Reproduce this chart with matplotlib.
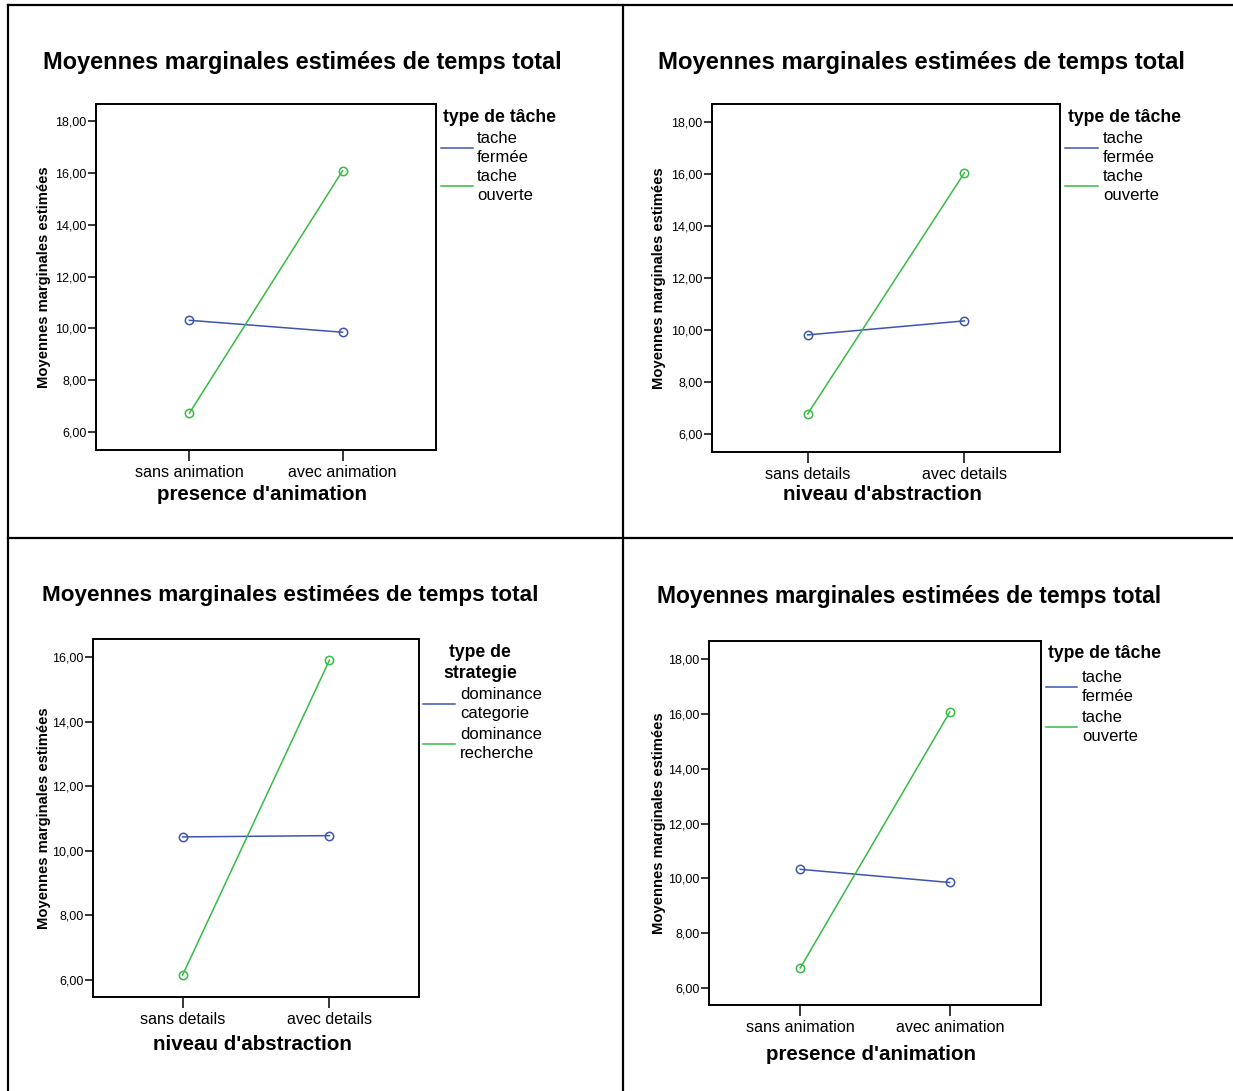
import matplotlib
matplotlib.use("Agg")
import matplotlib.pyplot as plt
from matplotlib.lines import Line2D

plt.rcParams['font.family'] = ['Liberation Sans', 'DejaVu Sans']

W, H = 1233, 1091

title = "Moyennes marginales estimées de temps total"
ylabel = "Moyennes marginales estimées"

# panel data
animation_cats = ["sans animation", "avec animation"]
details_cats = ["sans details", "avec details"]

tache_labels = ["tache\nfermée", "tache\nouverte"]
strategie_labels = ["dominance\ncategorie", "dominance\nrecherche"]

p1_fermee = [10.31, 9.85]
p1_ouverte = [6.73, 16.08]

p2_fermee = [9.81, 10.35]
p2_ouverte = [6.77, 16.04]

p3_categorie = [10.43, 10.47]
p3_recherche = [6.15, 15.90]

p4_fermee = [10.33, 9.85]
p4_ouverte = [6.73, 16.07]

yticks_18 = [6, 8, 10, 12, 14, 16, 18]
yticks_16 = [6, 8, 10, 12, 14, 16]

BLUE = '#3d55b0'
GREEN = '#36bb45'


def fx(x):
    return x / W


def fy(y):
    return 1 - y / H


fig = plt.figure(figsize=(W / 100, H / 100), dpi=100)


def panel(box, ylim, yticks, cats, s1, s2, labels, leg_title, xlabel,
          title_xy, title_size, ylab_xy, xlab_xy, leg, leg_title_center=False):
    x0, y0, x1, y1 = box
    ax = fig.add_axes([fx(x0), fy(y1), (x1 - x0) / W, (y1 - y0) / H])
    xs = list(range(len(cats)))
    ax.plot(xs, s1, color=BLUE, lw=1.1, marker='o', ms=6, mfc='none', mec=BLUE, mew=1.1)
    ax.plot(xs, s2, color=GREEN, lw=1.1, marker='o', ms=6, mfc='none', mec=GREEN, mew=1.1)
    ax.set_xlim(-0.61, 1.61)
    ax.set_ylim(*ylim)
    ax.set_yticks(yticks)
    ax.set_yticklabels(["{:.2f}".format(v).replace('.', ',') for v in yticks], fontsize=9)
    ax.set_xticks(xs)
    ax.set_xticklabels(cats, fontsize=11.6)
    ax.tick_params(axis='y', length=6, width=1.1, pad=1)
    ax.tick_params(axis='x', length=8, width=1.1, pad=3)
    for sp in ax.spines.values():
        sp.set_linewidth(1.4)
    fig.text(fx(title_xy[0]), fy(title_xy[1]), title, fontsize=title_size,
             fontweight='bold', ha='left', va='center')
    fig.text(fx(ylab_xy[0]), fy(ylab_xy[1]), ylabel, fontsize=10.6, fontweight='bold',
             rotation=90, ha='center', va='center')
    fig.text(fx(xlab_xy[0]), fy(xlab_xy[1]), xlabel, fontsize=14.8, fontweight='bold',
             ha='center', va='center')
    # legend
    tx, ty, lx0, lx1, txt_x, ly = leg
    fig.text(fx(tx), fy(ty), leg_title, fontsize=12.7, fontweight='bold',
             ha='center' if leg_title_center else 'left', va='center', linespacing=1.3,
             multialignment='center')
    for i, (lab, col) in enumerate(zip(labels, [BLUE, GREEN])):
        yy = ly[i]
        fig.add_artist(Line2D([fx(lx0), fx(lx1)], [fy(yy), fy(yy)], color=col, lw=1.1))
        fig.text(fx(txt_x), fy(yy), lab, fontsize=12, ha='left', va='center', linespacing=1.3)
    return ax


panel((96, 104, 436, 450), (5.306, 18.656), yticks_18, animation_cats, p1_fermee, p1_ouverte,
      tache_labels, "type de tâche", "presence d'animation",
      (43, 62), 16.9, (44, 277), (262, 495),
      (443, 117, 441, 473, 477, [148, 186]))

panel((712, 104, 1060, 452), (5.308, 18.69), yticks_18, details_cats, p2_fermee, p2_ouverte,
      tache_labels, "type de tâche", "niveau d'abstraction",
      (658, 62), 17.2, (659, 278), (882, 495),
      (1068, 117, 1065, 1098, 1103, [148, 186]))

panel((93, 639, 419, 997), (5.474, 16.557), yticks_16, details_cats, p3_categorie, p3_recherche,
      strategie_labels, "type de\nstrategie", "niveau d'abstraction",
      (42, 596), 16.2, (44, 818), (252, 1045),
      (480, 663, 423, 455, 460, [704, 744]), leg_title_center=True)

panel((709, 641, 1041, 1005), (5.38, 18.66), yticks_18, animation_cats, p4_fermee, p4_ouverte,
      tache_labels, "type de tâche", "presence d'animation",
      (657, 597), 16.5, (659, 823), (871, 1054),
      (1048, 654, 1046, 1077, 1082, [687, 727]))

# panel border lines
for xs_, ys_ in [([8, W], [5, 5]), ([8, 8], [5, H]), ([623, 623], [5, H]), ([8, W], [538, 538])]:
    fig.add_artist(Line2D([fx(v) for v in xs_], [fy(v) for v in ys_], color='black', lw=1.6))

fig.savefig("out.png", dpi=100)
